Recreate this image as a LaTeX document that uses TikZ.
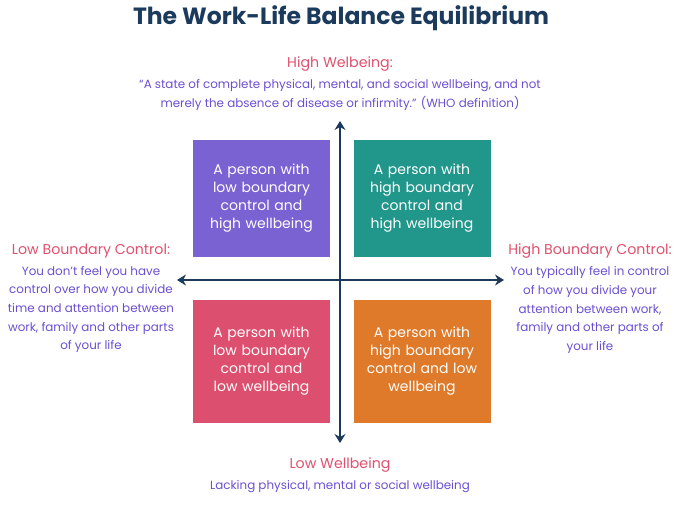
\documentclass[tikz,border=0pt]{standalone}
\usepackage{fontspec}
\setmainfont{Poppins}
\usetikzlibrary{arrows.meta}
\definecolor{navy}{HTML}{1B3A5C}
\definecolor{qpurple}{HTML}{7B62D2}
\definecolor{qteal}{HTML}{21968A}
\definecolor{qpink}{HTML}{DD4F6F}
\definecolor{qorange}{HTML}{DE7A2A}
\definecolor{lblred}{HTML}{E0506E}
\definecolor{txtpurple}{HTML}{6A50D0}
\begin{document}
\begin{tikzpicture}[x=1pt,y=-1pt,
  quad/.style={minimum width=137pt,minimum height=#1,inner sep=0pt,text=white,font=\fontsize{14}{18}\selectfont,align=center,text width=128pt},
  head/.style={text=lblred,font=\fontsize{14.2}{16}\selectfont,inner sep=0pt},
  body/.style={text=txtpurple,font=\fontsize{11.9}{18.7}\selectfont,align=center,inner sep=0pt},
  axis/.style={draw=navy,line width=1.8pt,{Stealth[length=9pt,width=11pt,inset=3pt]}-{Stealth[length=9pt,width=11pt,inset=3pt]}}]
\useasboundingbox (0,0) rectangle (681,509);
\node[text=navy,font=\fontsize{23.5}{26}\selectfont\bfseries,inner sep=0pt] (title) at (341,18) {The Work-Life Balance Equilibrium};
\node[head] (hw) at (340,64) {High Welbeing:};
\node[body] (hwt) at (340,95) {“A state of complete physical, mental, and social wellbeing, and not\\merely the absence of disease or infirmity.” (WHO definition)};

\node[quad=117pt,fill=qpurple] (q1) at (261.5,198.5) {A person with\\low boundary\\control and\\high wellbeing};
\node[quad=117pt,fill=qteal] (q2) at (422,198.5) {A person with\\high boundary\\control and\\high wellbeing};
\node[quad=123pt,fill=qpink] (q3) at (261.5,361.5) {A person with\\low boundary\\control and\\low wellbeing};
\node[quad=123pt,fill=qorange] (q4) at (422,361.5) {A person with\\high boundary\\control and low\\wellbeing};

\coordinate (vt) at (340,121);
\coordinate (vb) at (340,443);
\coordinate (hl) at (177,280);
\coordinate (hr) at (504,280);
\draw[axis] (vt) -- (vb);
\draw[axis] (hl) -- (hr);

\node[head] (lbc) at (91,251) {Low Boundary Control:};
\node[body] (lbct) at (91,309.5) {You don’t feel you have\\control over how you divide\\time and attention between\\work, family and other parts\\of your life};
\node[head] (hbc) at (590,251) {High Boundary Control:};
\node[body] (hbct) at (590,310) {You typically feel in control\\of how you divide your\\attention between work,\\family and other parts of\\your life};

\node[head] (lw) at (340,465) {Low Wellbeing};
\node[body] (lwt) at (340,487) {Lacking physical, mental or social wellbeing};
\end{tikzpicture}
\end{document}
